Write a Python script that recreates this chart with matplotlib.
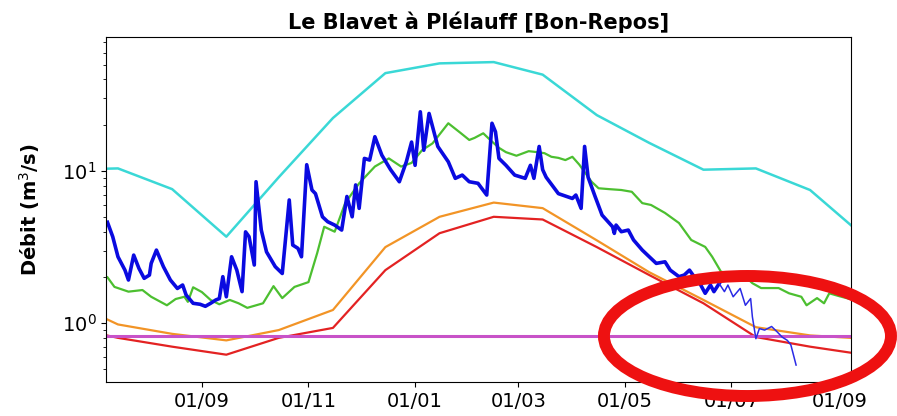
import numpy as np
import pandas as pd
import matplotlib
matplotlib.use("Agg")
import matplotlib.pyplot as plt
import matplotlib.dates as mdates
from matplotlib.patches import Ellipse

# reference day for the daily series (offsets in days)
ref = pd.Timestamp("2021-09-01")

# monthly statistics (mid-month values)
month_dates = ["2021-06-15", "2021-07-15", "2021-08-15", "2021-09-15", "2021-10-15",
               "2021-11-15", "2021-12-15", "2022-01-15", "2022-02-15", "2022-03-15",
               "2022-04-15", "2022-05-15", "2022-06-15", "2022-07-15", "2022-08-15",
               "2022-09-15"]
q_high = [10.2, 10.4, 7.6, 3.7, 9.1, 22.3, 44, 51, 52, 43, 23.3, 15.3, 10.2, 10.4, 7.5, 3.7]
q_orange = [1.42, 0.98, 0.85, 0.77, 0.90, 1.22, 3.16, 5.0, 6.2, 5.7, 3.5, 2.16, 1.42, 0.94, 0.83, 0.79]
q_red = [0.95, 0.80, 0.70, 0.62, 0.80, 0.93, 2.23, 3.9, 5.0, 4.8, 3.16, 2.07, 1.35, 0.81, 0.70, 0.62]

seuil = 0.82  # horizontal threshold

# median-like daily curve (green)
green_days = [-54, -50, -42, -34, -29, -20, -15, -10, -8, -5, 0, 5, 10, 16, 21, 26, 35, 41, 46,
              53, 61, 66, 70, 76, 82, 90, 99, 107, 114, 120, 126, 132, 141, 148, 153, 156, 161,
              165, 170, 174, 180, 187, 192, 196, 200, 204, 208, 212, 216, 223, 227, 233, 240,
              246, 252, 257, 265, 273, 280, 288, 292, 297, 305, 311, 315, 320, 330, 336, 343,
              346, 352, 356, 359, 365, 373]
green_vals = [2.0, 1.73, 1.61, 1.65, 1.49, 1.31, 1.44, 1.49, 1.38, 1.72, 1.60, 1.42, 1.33, 1.42,
              1.35, 1.26, 1.35, 1.75, 1.46, 1.73, 1.86, 2.89, 4.3, 3.99, 6.15, 8.3, 10.7, 12.1,
              10.7, 11.3, 13.7, 15.2, 20.6, 17.8, 16.0, 16.5, 17.7, 16.0, 14.2, 13.3, 12.6, 13.5,
              13.3, 13.1, 12.4, 12.2, 11.8, 12.4, 11.0, 8.5, 7.7, 7.6, 7.5, 7.3, 6.15, 5.98, 5.3,
              4.55, 3.52, 3.17, 2.73, 2.18, 2.07, 2.02, 1.83, 1.70, 1.70, 1.57, 1.49, 1.31, 1.46,
              1.35, 1.57, 1.50, 1.42]

# observed flow, validated (thick)
obs_days = [-54, -51, -48, -44, -42, -39, -36, -33, -30, -29, -26, -22, -18, -14, -11, -9, -5,
            -1, 2, 5, 8, 10, 12, 14, 17, 20, 23, 25, 27, 30, 31, 34, 37, 42, 46, 50, 52, 55, 57,
            60, 63, 65, 69, 72, 76, 80, 83, 86, 88, 90, 93, 96, 99, 103, 108, 113, 117, 120,
            122, 125, 127, 130, 133, 135, 141, 145, 149, 153, 158, 163, 166, 168, 170, 174, 179,
            185, 188, 190, 193, 195, 197, 204, 212, 214, 217, 219, 221, 225, 229, 235, 236, 237,
            240, 244, 247, 252, 256, 260, 265, 268, 273, 276, 279, 281, 285, 288, 291, 293, 296]
obs_vals = [4.6, 3.70, 2.73, 2.23, 1.92, 2.80, 2.29, 1.97, 2.07, 2.47, 3.02, 2.35, 1.92, 1.69,
            1.78, 1.53, 1.35, 1.33, 1.29, 1.35, 1.42, 1.45, 2.02, 1.49, 2.73, 2.23, 1.61, 3.98,
            3.70, 2.41, 8.5, 4.09, 2.94, 2.35, 2.12, 6.45, 3.26, 3.10, 2.73, 11.0, 7.5, 7.1, 5.0,
            4.64, 4.41, 4.09, 6.8, 5.0, 8.1, 5.68, 12.1, 11.8, 16.8, 12.7, 10.2, 8.5, 11.5, 15.5,
            10.9, 24.5, 13.7, 23.9, 17.7, 14.5, 11.5, 8.95, 9.4, 8.5, 8.3, 6.95, 20.6, 18.1, 12.1,
            10.9, 9.4, 8.95, 10.9, 8.95, 14.5, 10.2, 9.1, 7.1, 6.6, 6.95, 5.68, 14.5, 9.1, 6.8,
            5.13, 4.30, 3.89, 4.41, 3.99, 4.09, 3.52, 3.02, 2.73, 2.47, 2.53, 2.23, 2.02, 2.07,
            2.23, 2.07, 1.82, 1.57, 1.78, 1.61, 1.82]

# observed flow, provisional (thin)
prov_days = [296, 299, 301, 304, 308, 311, 314, 315, 317, 319, 322, 326, 329, 332, 335, 337, 340]
prov_vals = [1.82, 1.61, 1.78, 1.49, 1.69, 1.31, 1.45, 1.10, 0.79, 0.92, 0.90, 0.95, 0.88, 0.81,
             0.77, 0.72, 0.53]

x_start = pd.Timestamp("2021-07-08 04:00")
x_end = pd.Timestamp("2022-09-07 10:00")


def to_dates(days):
    return ref + pd.to_timedelta(days, unit="D")


fig = plt.figure(figsize=(8.97, 4.16), dpi=100)
ax = fig.add_axes([0.1182, 0.0817, 0.8305, 0.8293])

md = pd.to_datetime(month_dates)
ax.plot(md, q_high, color="#3ad8d6", lw=1.8)
ax.plot(to_dates(green_days), green_vals, color="#4cbf30", lw=1.6)
ax.plot(md, q_orange, color="#f29426", lw=1.6)
ax.plot(md, q_red, color="#e32222", lw=1.6)
ax.axhline(seuil, color="#c852c8", lw=2.2)
ax.plot(to_dates(obs_days), obs_vals, color="#0a0ae0", lw=2.6)
ax.plot(to_dates(prov_days), prov_vals, color="#2a2ae6", lw=1.1)

ax.set_yscale("log")
ax.set_ylim(0.41, 76)
ax.set_xlim(x_start, x_end)
ax.xaxis.set_major_locator(mdates.MonthLocator(bymonth=[1, 3, 5, 7, 9, 11]))
ax.xaxis.set_major_formatter(mdates.DateFormatter("%d/%m"))
ax.tick_params(labelsize=14)

ax.set_title("Le Blavet à Plélauff [Bon-Repos]", fontsize=15, fontweight="bold")
ax.set_ylabel("Débit (m$^3$/s)", fontsize=14, fontweight="bold", labelpad=14)

# red highlight ring
ring = Ellipse((0.8333, 0.1923), 0.320, 0.2885, transform=fig.transFigure,
               fill=False, edgecolor="#ee1111", lw=8.6, clip_on=False, zorder=10)
fig.add_artist(ring)

fig.savefig("out.png", dpi=100)
